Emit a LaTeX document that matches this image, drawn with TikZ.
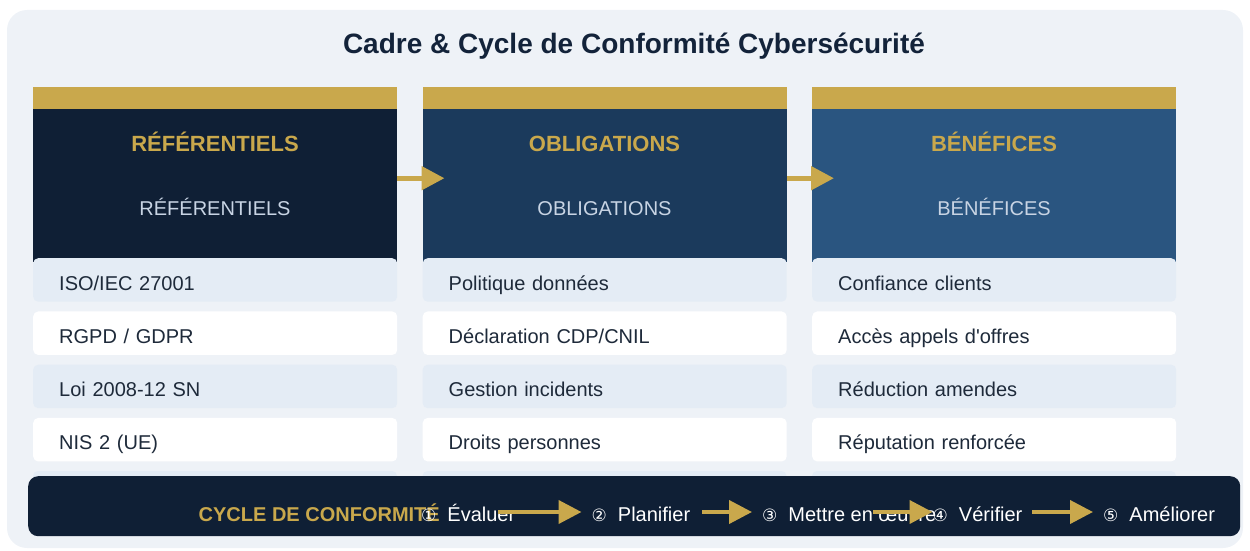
\documentclass[tikz,border=0pt]{standalone}
\usepackage{fontspec}
\setmainfont{Liberation Sans}
\newfontfamily\symfont{DejaVu Sans}
\usetikzlibrary{arrows.meta,positioning}

\definecolor{pagebg}{HTML}{EEF2F7}
\definecolor{ink}{HTML}{13233A}
\definecolor{gold}{HTML}{C9A84C}
\definecolor{darknavy}{HTML}{0F1F35}
\definecolor{midnavy}{HTML}{1B3A5C}
\definecolor{steel}{HTML}{2A5580}
\definecolor{subtext}{HTML}{C8D4E4}
\definecolor{rowtext}{HTML}{1E2A3A}
\definecolor{rowfill1}{HTML}{E4ECF5}
\colorlet{rowfill0}{white}

\tikzset{
  hdrbox/.style={minimum width=364pt,minimum height=153pt,inner sep=0pt,anchor=north west},
  hdrtitle/.style={font=\fontsize{22}{26}\selectfont\bfseries,text=gold,anchor=base,inner sep=0pt},
  hdrsub/.style={font=\fontsize{20}{24}\selectfont,text=subtext,anchor=base,inner sep=0pt},
  rowbox/.style={anchor=north west,rounded corners=5pt,text width=312pt,inner xsep=26pt,
    inner ysep=0pt,text height=32pt,text depth=11.5pt,align=left,
    font=\fontsize{20}{24}\selectfont,text=rowtext},
  stepitem/.style={font=\fontsize{20}{24}\selectfont,text=white,inner sep=0pt,anchor=base west},
  hdrarrow/.style={gold,line width=5pt,-{Triangle[length=23pt,width=23pt]}},
  cycarrow/.style={gold,line width=4pt,-{Triangle[length=23pt,width=23pt]}}
}

\begin{document}
\begin{tikzpicture}[x=1pt,y=-1pt]
  \useasboundingbox (0,0) rectangle (1250,551);
  \fill[pagebg,rounded corners=20pt] (7,10) rectangle (1243,548);

  \node[font=\fontsize{28}{32}\selectfont\bfseries,text=ink,anchor=base,inner sep=0pt]
    (title) at (634,53) {Cadre \& Cycle de Conformité Cybersécurité};

  % three column heads
  \foreach \x/\n/\c/\t in {33/ref/darknavy/RÉFÉRENTIELS,422.5/obl/midnavy/OBLIGATIONS,812/ben/steel/BÉNÉFICES}
  {
    \fill[gold] (\x,87) rectangle ++(364,23);
    \node[hdrbox,fill=\c] (\n) at (\x,109) {};
    \node[hdrtitle] (\n-title) at (\x+182,151) {\t};
    \node[hdrsub] (\n-sub) at (\x+182,215) {\t};
  }

  % rows
  \foreach \x in {33,422.5,812}
    \fill[rowfill1,rounded corners=5pt] (\x,471) rectangle ++(364,43);
  \foreach \t [count=\i, evaluate=\i as \f using {int(mod(\i,2))}] in
      {ISO/IEC 27001,RGPD / GDPR,Loi 2008-12 SN,NIS 2 (UE)}
    \node[rowbox,fill=rowfill\f] (ref-\i) at (33,{258+53.25*(\i-1)}) {\t};
  \foreach \t [count=\i, evaluate=\i as \f using {int(mod(\i,2))}] in
      {Politique données,Déclaration CDP/CNIL,Gestion incidents,Droits personnes}
    \node[rowbox,fill=rowfill\f] (obl-\i) at (422.5,{258+53.25*(\i-1)}) {\t};
  \foreach \t [count=\i, evaluate=\i as \f using {int(mod(\i,2))}] in
      {Confiance clients,Accès appels d\textquotesingle offres,Réduction amendes,Réputation renforcée}
    \node[rowbox,fill=rowfill\f] (ben-\i) at (812,{258+53.25*(\i-1)}) {\t};

  \draw[hdrarrow] ([yshift=7.5pt]ref.east) -- ([yshift=7.5pt,xshift=22pt]obl.west);
  \draw[hdrarrow] ([yshift=7.5pt]obl.east) -- ([yshift=7.5pt,xshift=22pt]ben.west);

  % cycle bar
  \node[fill=darknavy,rounded corners=10pt,minimum width=1212pt,minimum height=60pt,
    inner sep=0pt,anchor=north west] (cycle) at (28,476) {};
  \node[font=\fontsize{20}{24}\selectfont\bfseries,text=gold,inner sep=0pt,anchor=base east]
    (cycle-title) at (440,521) {CYCLE DE CONFORMITÉ};
  \foreach \x/\d/\t [count=\i] in {421/①/Évaluer,591.5/②/Planifier,762/③/Mettre en œuvre,932.5/④/Vérifier,1103/⑤/Améliorer}
    \node[stepitem] (cyc\i) at (\x,521) {{\symfont\fontsize{17}{20}\selectfont\d}\hspace{11pt}\t};

  \coordinate (from1) at (498,512);
  \coordinate (from2) at (702,512);
  \coordinate (from3) at (873,512);
  \coordinate (from4) at (1032,512);
  \foreach \a/\b/\s in {1/2/10,2/3/10,3/4/0,4/5/10}
    \draw[cycarrow,shorten >=\s pt] (from\a) -- (cyc\b.west |- from\a);
\end{tikzpicture}
\end{document}
